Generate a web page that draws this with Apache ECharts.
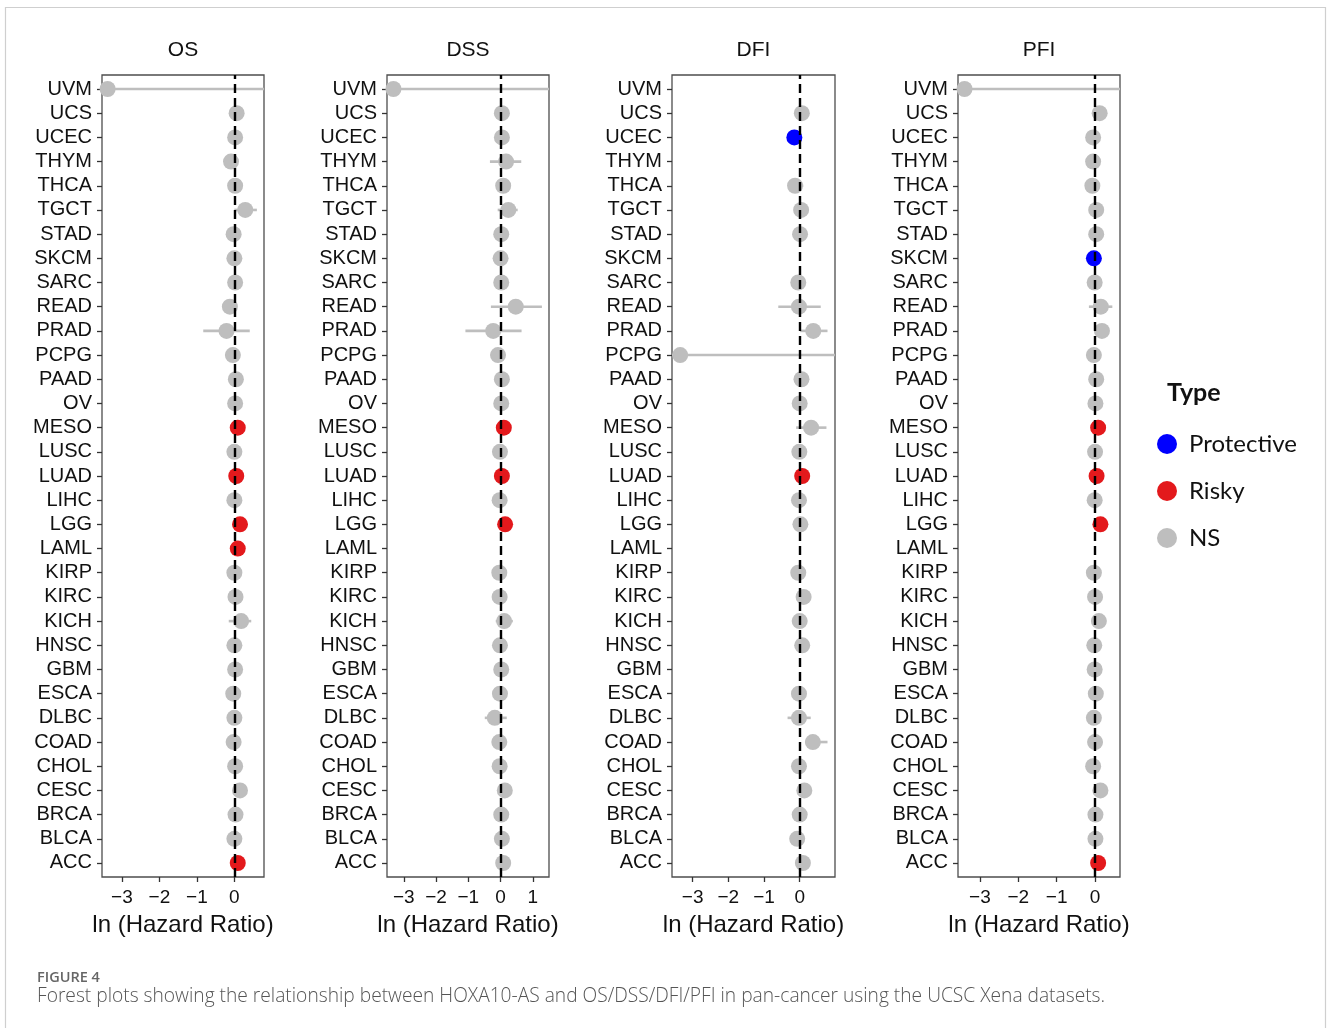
<!DOCTYPE html>
<html>
<head>
<meta charset="utf-8">
<script src="https://cdn.jsdelivr.net/npm/echarts@6/dist/echarts.min.js"></script>
<style>
html,body{margin:0;padding:0;background:#fff;}
#chart{width:1328px;height:1028px;}
</style>
</head>
<body>
<div id="chart"></div>
<script>
// Categories, listed top to bottom as in the figure
const categories = ['UVM','UCS','UCEC','THYM','THCA','TGCT','STAD','SKCM','SARC','READ','PRAD','PCPG','PAAD','OV','MESO','LUSC','LUAD','LIHC','LGG','LAML','KIRP','KIRC','KICH','HNSC','GBM','ESCA','DLBC','COAD','CHOL','CESC','BRCA','BLCA','ACC'];

// ln(HR), lower / upper CI (null = hidden under the dot), type (P = Protective, R = Risky, N = NS)
const osHR   = [-3.38,0.06,0.02,-0.09,0.02,0.29,-0.02,0.00,0.02,-0.12,-0.21,-0.04,0.04,0.02,0.09,0.00,0.05,0.00,0.15,0.09,0.00,0.03,0.18,0.00,0.02,-0.03,0.00,-0.02,0.02,0.15,0.03,0.00,0.09];
const osLo   = [-10,null,null,null,null,0.00,null,null,null,-0.30,-0.83,null,null,null,null,null,null,null,null,null,null,null,-0.15,null,null,null,null,null,null,null,null,null,null];
const osHi   = [10,null,null,null,null,0.60,null,null,null,0.06,0.41,null,null,null,null,null,null,null,null,null,null,null,0.45,null,null,null,null,null,null,null,null,null,null];
const osType = ['N','N','N','N','N','N','N','N','N','N','N','N','N','N','R','N','R','N','R','R','N','N','N','N','N','N','N','N','N','N','N','N','R'];

const dssHR   = [-3.32,0.04,0.04,0.17,0.08,0.24,0.02,0.00,0.02,0.47,-0.23,-0.08,0.04,0.02,0.10,-0.02,0.04,-0.03,0.14,null,-0.04,-0.03,0.11,-0.02,0.02,-0.02,-0.18,-0.04,-0.03,0.13,0.02,0.04,0.08];
const dssLo   = [-10,null,null,-0.33,null,-0.09,null,null,null,-0.30,-1.09,null,null,null,null,null,null,null,null,null,null,null,-0.15,null,null,null,-0.49,null,null,null,null,null,null];
const dssHi   = [10,null,null,0.64,null,0.53,null,null,null,1.28,0.65,null,null,null,null,null,null,null,null,null,null,null,0.38,null,null,null,0.19,null,null,null,null,null,null];
const dssType = ['N','N','N','N','N','N','N','N','N','N','N','N','N','N','R','N','R','N','R',null,'N','N','N','N','N','N','N','N','N','N','N','N','N'];

const dfiHR   = [null,0.06,-0.15,null,-0.13,0.04,0.01,null,-0.04,-0.02,0.38,-3.35,0.05,0.00,0.32,-0.01,0.07,-0.02,0.02,null,-0.04,0.11,0.00,0.07,null,-0.02,-0.02,0.37,-0.02,0.13,0.00,-0.07,0.09];
const dfiLo   = [null,null,null,null,-0.30,null,null,null,null,-0.60,0.01,-10,null,null,-0.10,null,null,null,null,null,null,null,-0.20,null,null,null,-0.34,0.15,null,null,null,null,null];
const dfiHi   = [null,null,null,null,0.10,null,null,null,null,0.59,0.78,10,null,null,0.75,null,null,null,null,null,null,null,0.20,null,null,null,0.31,0.78,null,null,null,null,null];
const dfiType = [null,'N','P',null,'N','N','N',null,'N','N','N','N','N','N','N','N','R','N','N',null,'N','N','N','N',null,'N','N','N','N','N','N','N','N'];

const pfiHR   = [-3.40,0.12,-0.05,-0.05,-0.07,0.03,0.03,-0.03,-0.01,0.15,0.18,-0.03,0.03,0.01,0.08,0.00,0.04,-0.01,0.14,null,-0.03,0.00,0.10,-0.02,-0.01,0.02,-0.03,0.00,-0.05,0.14,0.01,0.01,0.08];
const pfiLo   = [-10,null,null,null,null,null,null,null,null,-0.16,null,null,null,null,null,null,null,null,null,null,null,null,null,null,null,null,null,null,null,null,null,null,null];
const pfiHi   = [10,null,null,null,null,null,null,null,null,0.45,null,null,null,null,null,null,null,null,null,null,null,null,null,null,null,null,null,null,null,null,null,null,null];
const pfiType = ['N','N','N','N','N','N','N','P','N','N','N','N','N','N','R','N','R','N','R',null,'N','N','N','N','N','N','N','N','N','N','N','N','R'];

// X tick labels per panel
const osTicks  = [-3,-2,-1,0];
const dssTicks = [-3,-2,-1,0,1];
const dfiTicks = [-3,-2,-1,0];
const pfiTicks = [-3,-2,-1,0];

const panelTitles = ['OS','DSS','DFI','PFI'];
const typeNames = {P:'Protective', R:'Risky', N:'NS'};
const typeColors = {P:'#0000ff', R:'#e3191c', N:'#bebebe'};

// layout (positions / styles only)
const layout = [
  {left:102, width:162, min:-3.53, max:0.79},
  {left:387, width:162, min:-3.52, max:1.50},
  {left:672, width:163, min:-3.58, max:0.99},
  {left:958, width:162, min:-3.57, max:0.65}
];
const panels = [
  {hr:osHR, lo:osLo, hi:osHi, type:osType, ticks:osTicks},
  {hr:dssHR, lo:dssLo, hi:dssHi, type:dssType, ticks:dssTicks},
  {hr:dfiHR, lo:dfiLo, hi:dfiHi, type:dfiType, ticks:dfiTicks},
  {hr:pfiHR, lo:pfiLo, hi:pfiHi, type:pfiType, ticks:pfiTicks}
];

const N = categories.length;
const yIdx = categories.map((c, i) => N - 1 - i);
const gridTop = 75, gridHeight = 802;
const labelFont = 'Liberation Sans, Arial, sans-serif';
const minus = v => (v < 0 ? '\u2212' + Math.abs(v) : String(v));

const grids = [], xAxes = [], yAxes = [], series = [], graphics = [];

panels.forEach((p, k) => {
  const L = layout[k];
  grids.push({left:L.left, top:gridTop, width:L.width, height:gridHeight, show:true,
    borderColor:'#4d4d4d', borderWidth:1.3, backgroundColor:'#fff', containLabel:false});
  xAxes.push({type:'value', gridIndex:k, min:L.min, max:L.max, position:'bottom',
    axisLine:{show:false, onZero:false}, splitLine:{show:false},
    axisTick:{show:true, inside:false, length:5, lineStyle:{color:'#333', width:1.3}, customValues:p.ticks},
    axisLabel:{show:true, customValues:p.ticks, formatter:minus, margin:11,
      fontFamily:labelFont, fontSize:19, color:'#111'},
    name:'ln (Hazard Ratio)', nameLocation:'middle', nameGap:36,
    nameTextStyle:{fontFamily:labelFont, fontSize:24, color:'#111'}});
  yAxes.push({type:'value', gridIndex:k, min:-0.58, max:N - 1 + 0.58, position:'left',
    axisLine:{show:false, onZero:false}, splitLine:{show:false},
    axisTick:{show:true, inside:false, length:5, lineStyle:{color:'#333', width:1.3}, customValues:yIdx},
    axisLabel:{show:true, customValues:yIdx, formatter:v => categories[N - 1 - v], margin:10,
      fontFamily:labelFont, fontSize:20, color:'#111'}});
  graphics.push({type:'text', x:L.left + L.width / 2, y:50, silent:true,
    style:{text:panelTitles[k], font:'21px ' + labelFont, fill:'#111', align:'center', verticalAlign:'middle'}});

  // CI segments
  const ciData = [];
  p.hr.forEach((v, i) => {
    if (v !== null && p.lo[i] !== null) ciData.push([v, yIdx[i], p.lo[i], p.hi[i]]);
  });
  series.push({type:'custom', xAxisIndex:k, yAxisIndex:k, z:2, silent:true,
    encode:{x:0, y:1}, data:ciData,
    renderItem:(params, api) => {
      const y = api.value(1);
      const lo = Math.max(api.value(2), L.min), hi = Math.min(api.value(3), L.max);
      const a = api.coord([lo, y]), b = api.coord([hi, y]);
      return {type:'line', shape:{x1:a[0], y1:a[1], x2:b[0], y2:b[1]},
        style:{stroke:'#bebebe', lineWidth:2.6}};
    }});

  // points by type
  ['P','R','N'].forEach(t => {
    const d = [];
    p.hr.forEach((v, i) => { if (v !== null && p.type[i] === t) d.push([v, yIdx[i]]); });
    series.push({type:'scatter', name:typeNames[t], xAxisIndex:k, yAxisIndex:k, z:3,
      symbol:'circle', symbolSize:16, data:d, itemStyle:{color:typeColors[t], opacity:1},
      emphasis:{disabled:true}});
  });

  // dashed zero line on top
  series.push({type:'scatter', xAxisIndex:k, yAxisIndex:k, z:5, data:[], silent:true,
    markLine:{silent:true, symbol:'none', label:{show:false},
      lineStyle:{color:'#000', type:[9,5], width:2.4},
      data:[{xAxis:0}]}});
});

graphics.push(
  {type:'rect', z:-10, silent:true, shape:{x:5.5, y:7.5, width:1320, height:1040},
    style:{fill:'none', stroke:'#cfcfcf', lineWidth:1.2}},
  {type:'text', x:1167, y:393, silent:true,
    style:{text:'Type', font:'bold 25px Lato, Open Sans, sans-serif', fill:'#111', verticalAlign:'middle'}},
  {type:'text', x:37, y:978, silent:true,
    style:{text:'FIGURE 4', font:'600 14.5px Open Sans, sans-serif', fill:'#666', verticalAlign:'middle'}},
  {type:'text', x:37, y:997, silent:true,
    style:{text:'Forest plots showing the relationship between HOXA10-AS and OS/DSS/DFI/PFI in pan-cancer using the UCSC Xena datasets.',
      font:'300 19.2px Open Sans, sans-serif', fill:'#555', verticalAlign:'middle'}}
);

const chart = echarts.init(document.getElementById('chart'), null, {renderer:'canvas'});
chart.setOption({
  animation:false,
  backgroundColor:'#ffffff',
  grid:grids,
  xAxis:xAxes,
  yAxis:yAxes,
  legend:{data:['Protective','Risky','NS'], orient:'vertical', left:1152, top:427,
    itemWidth:20, itemHeight:20, itemGap:23, icon:'circle', selectedMode:false,
    textStyle:{fontFamily:'Lato, Open Sans, sans-serif', fontSize:24, color:'#111', padding:[0,0,0,7]}},
  graphic:graphics,
  series:series
});
</script>
</body>
</html>
